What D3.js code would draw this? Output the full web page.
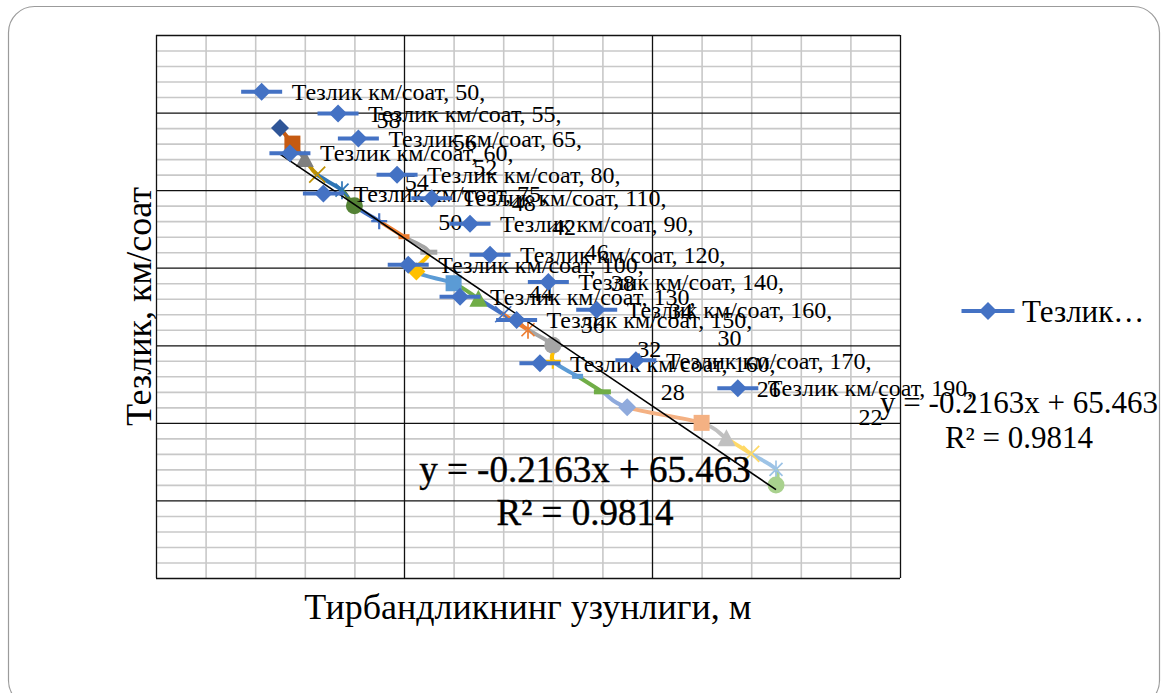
<!DOCTYPE html>
<html>
<head>
<meta charset="utf-8">
<script src="https://cdn.jsdelivr.net/npm/d3@7"></script>
<style>
  html, body { margin: 0; padding: 0; background: #ffffff; }
  svg { display: block; }
  text { font-family: "Liberation Serif", "Times New Roman", serif; fill: #000; }
</style>
</head>
<body>
<svg id="chart" width="1166" height="693"></svg>
<script>
// ---- data -------------------------------------------------------------
const seriesName = "Тезлик км/соат";
const jamLength = [50, 55, 60, 65, 75, 80, 90, 100, 110, 105, 120, 130, 140, 150, 160, 160, 170, 180, 190, 220, 230, 240, 250, 250];
const speed     = [58, 56, 54, 52, 50, 48, 46, 44, 42, 39.5, 38, 36, 34, 32, 30, 28, 26, 24, 22, 20, 18, 16, 14, 12];
// points that carry a data label
const labelledPoints = [0, 1, 2, 3, 4, 5, 6, 7, 8, 10, 11, 12, 13, 14, 15, 16, 18];
// linear trend reported on the chart
const trendSlope = -0.2163;
const trendIntercept = 65.463;
const trendR2 = 0.9814;
const xTitle = "Тирбандликнинг узунлиги, м";
const yTitle = "Тезлик, км/соат";
const legendText = "Тезлик…";

// ---- layout / style ---------------------------------------------------
const W = 1166, H = 693;
const plot = { left: 156, right: 900, top: 35, bottom: 578 };
// manually dragged data-label positions (in axis units: start of text, baseline)
const labelAnchors = [
  [54.7, 61.6], [85.5, 58.8], [66.1, 53.7], [93.7, 55.6], [79.6, 48.5], [109.3, 50.9],
  [138.7, 44.6], [113.8, 39.3], [123.3, 47.9], [146.8, 40.6], [134.7, 35.2], [170.3, 37.1],
  [157.5, 32.2], [189.8, 33.5], [166.9, 26.6], [205.6, 27.0], [246.7, 23.4]
];
const pointColors = [
  "#2F5597", "#C55A11", "#7F7F7F", "#BF9000", "#2E75B6", "#548235",
  "#4472C4", "#ED7D31", "#A5A5A5", "#FFC000", "#5B9BD5", "#70AD47",
  "#4472C4", "#ED7D31", "#A5A5A5", "#FFC000", "#5B9BD5", "#70AD47",
  "#8FAADC", "#F4B183", "#C0C0C0", "#FFD966", "#9DC3E6", "#A9D18E"
];
const markerCycle = ["diamond", "square", "triangle", "x", "star", "circle", "plus", "dash", "longdash"];
const keyBlue = "#4472C4";

const svg = d3.select("#chart");

// slide frame
svg.append("rect")
  .attr("x", 8.5).attr("y", 6.5).attr("width", 1151).attr("height", 700)
  .attr("rx", 26).attr("ry", 26)
  .attr("fill", "#fff").attr("stroke", "#9b9b9b").attr("stroke-width", 1.2);

const x = d3.scaleLinear().domain([0, 300]).range([plot.left, plot.right]);
const y = d3.scaleLinear().domain([0, 70]).range([plot.bottom, plot.top]);

// ---- gridlines --------------------------------------------------------
const grid = svg.append("g");
function gridAxis(axis, tickValues, size, transform, color, width) {
  const g = grid.append("g").attr("transform", transform)
    .call(axis.tickValues(tickValues).tickSize(size).tickFormat(""));
  g.select(".domain").remove();
  g.selectAll(".tick line").attr("stroke", color).attr("stroke-width", width);
  return g;
}
const plotH = plot.bottom - plot.top, plotW = plot.right - plot.left;
const minorX = d3.range(0, 301, 20).filter(v => v % 100 !== 0);
const minorY = d3.range(0, 71, 2).filter(v => v % 10 !== 0);
gridAxis(d3.axisBottom(x), minorX, -plotH, `translate(0,${plot.bottom})`, "#c8c8c8", 1.6);
gridAxis(d3.axisLeft(y), minorY, -plotW, `translate(${plot.left},0)`, "#c8c8c8", 1.6);
gridAxis(d3.axisBottom(x), d3.range(0, 301, 100), -plotH, `translate(0,${plot.bottom})`, "#111", 1.3);
gridAxis(d3.axisLeft(y), d3.range(0, 71, 10), -plotW, `translate(${plot.left},0)`, "#111", 1.3);

// ---- series line (smoothed, one colour per segment) -------------------
const pts = jamLength.map((v, i) => [x(v), y(speed[i])]);
const n = pts.length;
const lineG = svg.append("g");
for (let i = 0; i < n - 1; i++) {
  const p0 = pts[Math.max(i - 1, 0)], p1 = pts[i], p2 = pts[i + 1], p3 = pts[Math.min(i + 2, n - 1)];
  const c1 = [p1[0] + (p2[0] - p0[0]) / 6, p1[1] + (p2[1] - p0[1]) / 6];
  const c2 = [p2[0] - (p3[0] - p1[0]) / 6, p2[1] - (p3[1] - p1[1]) / 6];
  const path = d3.path();
  path.moveTo(p1[0], p1[1]);
  path.bezierCurveTo(c1[0], c1[1], c2[0], c2[1], p2[0], p2[1]);
  lineG.append("path").attr("d", path.toString())
    .attr("fill", "none").attr("stroke", pointColors[i + 1])
    .attr("stroke-width", 4).attr("stroke-linecap", "round");
}

// ---- markers ----------------------------------------------------------
function drawMarker(g, type, cx, cy, color) {
  const s = 9;
  const m = g.append("g").attr("transform", `translate(${cx},${cy})`);
  switch (type) {
    case "diamond":
      m.append("path").attr("d", `M0,${-s}L${s},0L0,${s}L${-s},0Z`).attr("fill", color); break;
    case "square":
      m.append("rect").attr("x", -8).attr("y", -8).attr("width", 16).attr("height", 16).attr("fill", color); break;
    case "triangle":
      m.append("path").attr("d", `M0,${-s}L${s},8L${-s},8Z`).attr("fill", color); break;
    case "circle":
      m.append("circle").attr("r", 8.5).attr("fill", color); break;
    case "x":
      m.append("path").attr("d", `M-8,-8L8,8M-8,8L8,-8`)
        .attr("stroke", color).attr("stroke-width", 1.7); break;
    case "star":
      m.append("path").attr("d", `M-6.5,-6.5L6.5,6.5M-6.5,6.5L6.5,-6.5M0,-9L0,9`)
        .attr("stroke", color).attr("stroke-width", 1.7); break;
    case "plus":
      m.append("path").attr("d", `M-8,0L8,0M0,-8L0,8`)
        .attr("stroke", color).attr("stroke-width", 2.2); break;
    case "dash":
      m.append("rect").attr("x", -5.5).attr("y", -2.5).attr("width", 11).attr("height", 5).attr("fill", color); break;
    case "longdash":
      m.append("rect").attr("x", -8.5).attr("y", -2.5).attr("width", 17).attr("height", 5).attr("fill", color); break;
  }
}
const markG = svg.append("g");
pts.forEach((p, i) => drawMarker(markG, markerCycle[i % markerCycle.length], p[0], p[1], pointColors[i]));

// ---- trendline --------------------------------------------------------
const xMin = d3.min(jamLength), xMax = d3.max(jamLength);
svg.append("line")
  .attr("x1", x(xMin)).attr("y1", y(trendSlope * xMin + trendIntercept))
  .attr("x2", x(xMax)).attr("y2", y(trendSlope * xMax + trendIntercept))
  .attr("stroke", "#000").attr("stroke-width", 1.6);

// ---- data labels with legend key --------------------------------------
function legendKey(g, cx, cy, len, d) {
  g.append("line").attr("x1", cx - len / 2).attr("x2", cx + len / 2)
    .attr("y1", cy).attr("y2", cy).attr("stroke", keyBlue).attr("stroke-width", 4);
  g.append("path").attr("d", `M${cx},${cy - d}L${cx + d},${cy}L${cx},${cy + d}L${cx - d},${cy}Z`)
    .attr("fill", keyBlue);
}
const labelG = svg.append("g");
labelledPoints.forEach((pi, k) => {
  const tx = x(labelAnchors[k][0]);
  const ty = y(labelAnchors[k][1]);
  const g = labelG.append("g");
  legendKey(g, tx - 30, ty - 8.3, 41, 9);
  const t1 = g.append("text").attr("x", tx).attr("y", ty)
    .attr("font-size", 24).text(`${seriesName}, ${jamLength[pi]},`);
  const w = t1.node().getComputedTextLength();
  g.append("text").attr("x", tx + w / 2).attr("y", ty + 28.3)
    .attr("text-anchor", "middle").attr("font-size", 24).text(speed[pi]);
});

// ---- trendline equations ----------------------------------------------
const eq = `y = ${trendSlope}x + ${trendIntercept}`;
const r2 = `R² = ${trendR2}`;
function eqLabel(cx, by1, by2, fs, sw) {
  [[by1, eq], [by2, r2]].forEach(([by, s]) => {
    svg.append("text").attr("x", cx).attr("y", by).attr("text-anchor", "middle")
      .attr("font-size", fs).attr("stroke", "#000").attr("stroke-width", sw)
      .text(s);
  });
}
eqLabel(585, 482, 525, 37, 0.4);
eqLabel(1019, 413, 448, 31, 0);

// ---- legend -------------------------------------------------------------
const lg = svg.append("g");
legendKey(lg, 988, 311, 53, 9);
lg.append("text").attr("x", 1022).attr("y", 322).attr("font-size", 31).text(legendText);

// ---- axis titles --------------------------------------------------------
svg.append("text").attr("x", (plot.left + plot.right) / 2).attr("y", 619)
  .attr("text-anchor", "middle").attr("font-size", 36).text(xTitle);
svg.append("text")
  .attr("transform", `translate(151,${(plot.top + plot.bottom) / 2}) rotate(-90)`)
  .attr("text-anchor", "middle").attr("font-size", 36).text(yTitle);
</script>
</body>
</html>
